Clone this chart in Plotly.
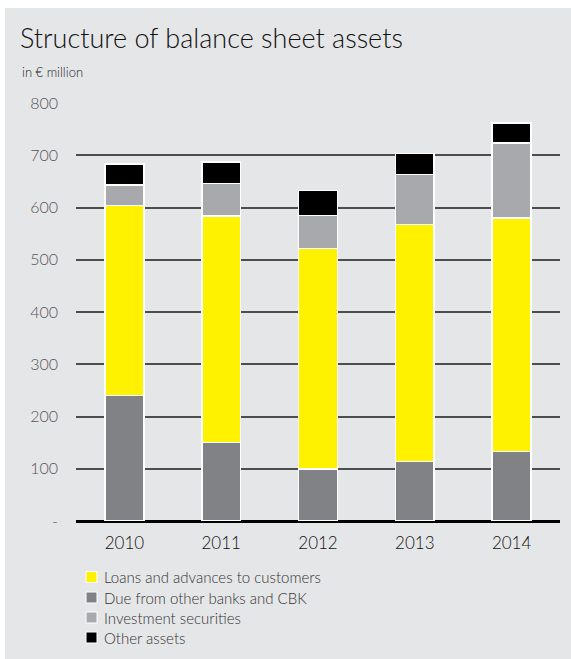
import plotly.graph_objects as go

# Balance sheet asset structure, EUR million
years = ["2010", "2011", "2012", "2013", "2014"]
due_from_banks = [240, 150, 100, 114, 133]
loans = [364, 434, 422, 453, 447]
securities = [39, 62, 63, 96, 143]
other_assets = [40, 41, 48, 40, 39]

y_tickvals = [0, 100, 200, 300, 400, 500, 600, 700, 800]
y_ticktext = ["-", "100", "200", "300", "400", "500", "600", "700", "800"]

# stacking order bottom -> top
stack = [
    ("Due from other banks and CBK", due_from_banks, "#808285"),
    ("Loans and advances to customers", loans, "#fff200"),
    ("Investment securities", securities, "#a7a9ac"),
    ("Other assets", other_assets, "#000000"),
]
# order in which the key lists the series
legend_order = [1, 0, 2, 3]

W, H = 571, 659
L, R, T, B = 76, 11, 103, 138
PW, PH = W - L - R, H - T - B


def px_x(px):
    return (px - L) / PW


def px_y(py):
    return (H - B - py) / PH


fig = go.Figure()
for name, vals, color in stack:
    fig.add_trace(go.Bar(
        x=years, y=vals, name=name,
        marker=dict(color=color, line=dict(color="white", width=1.5)),
        showlegend=False,
    ))

shapes = [
    # light grey panel
    dict(type="rect", xref="paper", yref="paper", layer="below",
         x0=px_x(5), x1=px_x(W + 2), y0=px_y(H + 2), y1=px_y(8),
         fillcolor="#e5e6e8", line=dict(width=0)),
]
annotations = []

# key below the chart
row_y = [577, 597.5, 617.5, 637.5]
for row, idx in enumerate(legend_order):
    name, _, color = stack[idx]
    cy = row_y[row]
    shapes.append(dict(
        type="rect", xref="paper", yref="paper",
        x0=px_x(86), x1=px_x(97), y0=px_y(cy + 5.5), y1=px_y(cy - 5.5),
        fillcolor=color, line=dict(color="white", width=1),
    ))
    annotations.append(dict(
        text=name, xref="paper", yref="paper",
        x=px_x(102), y=px_y(cy), xanchor="left", yanchor="middle",
        showarrow=False,
        font=dict(family="Lato", size=15, color="#333333", weight=300),
    ))

annotations.append(dict(
    text="in € million", xref="paper", yref="paper",
    x=px_x(20), y=px_y(72), xanchor="left", yanchor="middle",
    showarrow=False,
    font=dict(family="Lato", size=13, color="#222222", weight=300),
))

fig.update_layout(
    width=W, height=H,
    margin=dict(l=L, r=R, t=T, b=B),
    paper_bgcolor="white",
    plot_bgcolor="rgba(0,0,0,0)",
    barmode="stack",
    bargap=0.6,
    showlegend=False,
    title=dict(
        text="Structure of balance sheet assets",
        x=20 / W, xanchor="left", xref="container",
        y=1 - 39 / H, yanchor="middle", yref="container",
        font=dict(family="Lato", size=27, color="#111111", weight=300),
    ),
    shapes=shapes,
    annotations=annotations,
    xaxis=dict(
        showgrid=False, showline=False, ticks="",
        tickfont=dict(family="Lato", size=17, color="#111111", weight=300),
        ticklabelstandoff=10,
        fixedrange=True,
    ),
    yaxis=dict(
        range=[0, 800],
        tickvals=y_tickvals, ticktext=y_ticktext,
        showgrid=True, gridcolor="#4d4d4d", gridwidth=1.5,
        zeroline=True, zerolinecolor="#000000", zerolinewidth=3,
        showline=False, ticks="",
        tickfont=dict(family="Lato", size=16, color="#555555", weight=300),
        ticklabelstandoff=17,
        fixedrange=True,
    ),
)

fig.write_html("out.html")
